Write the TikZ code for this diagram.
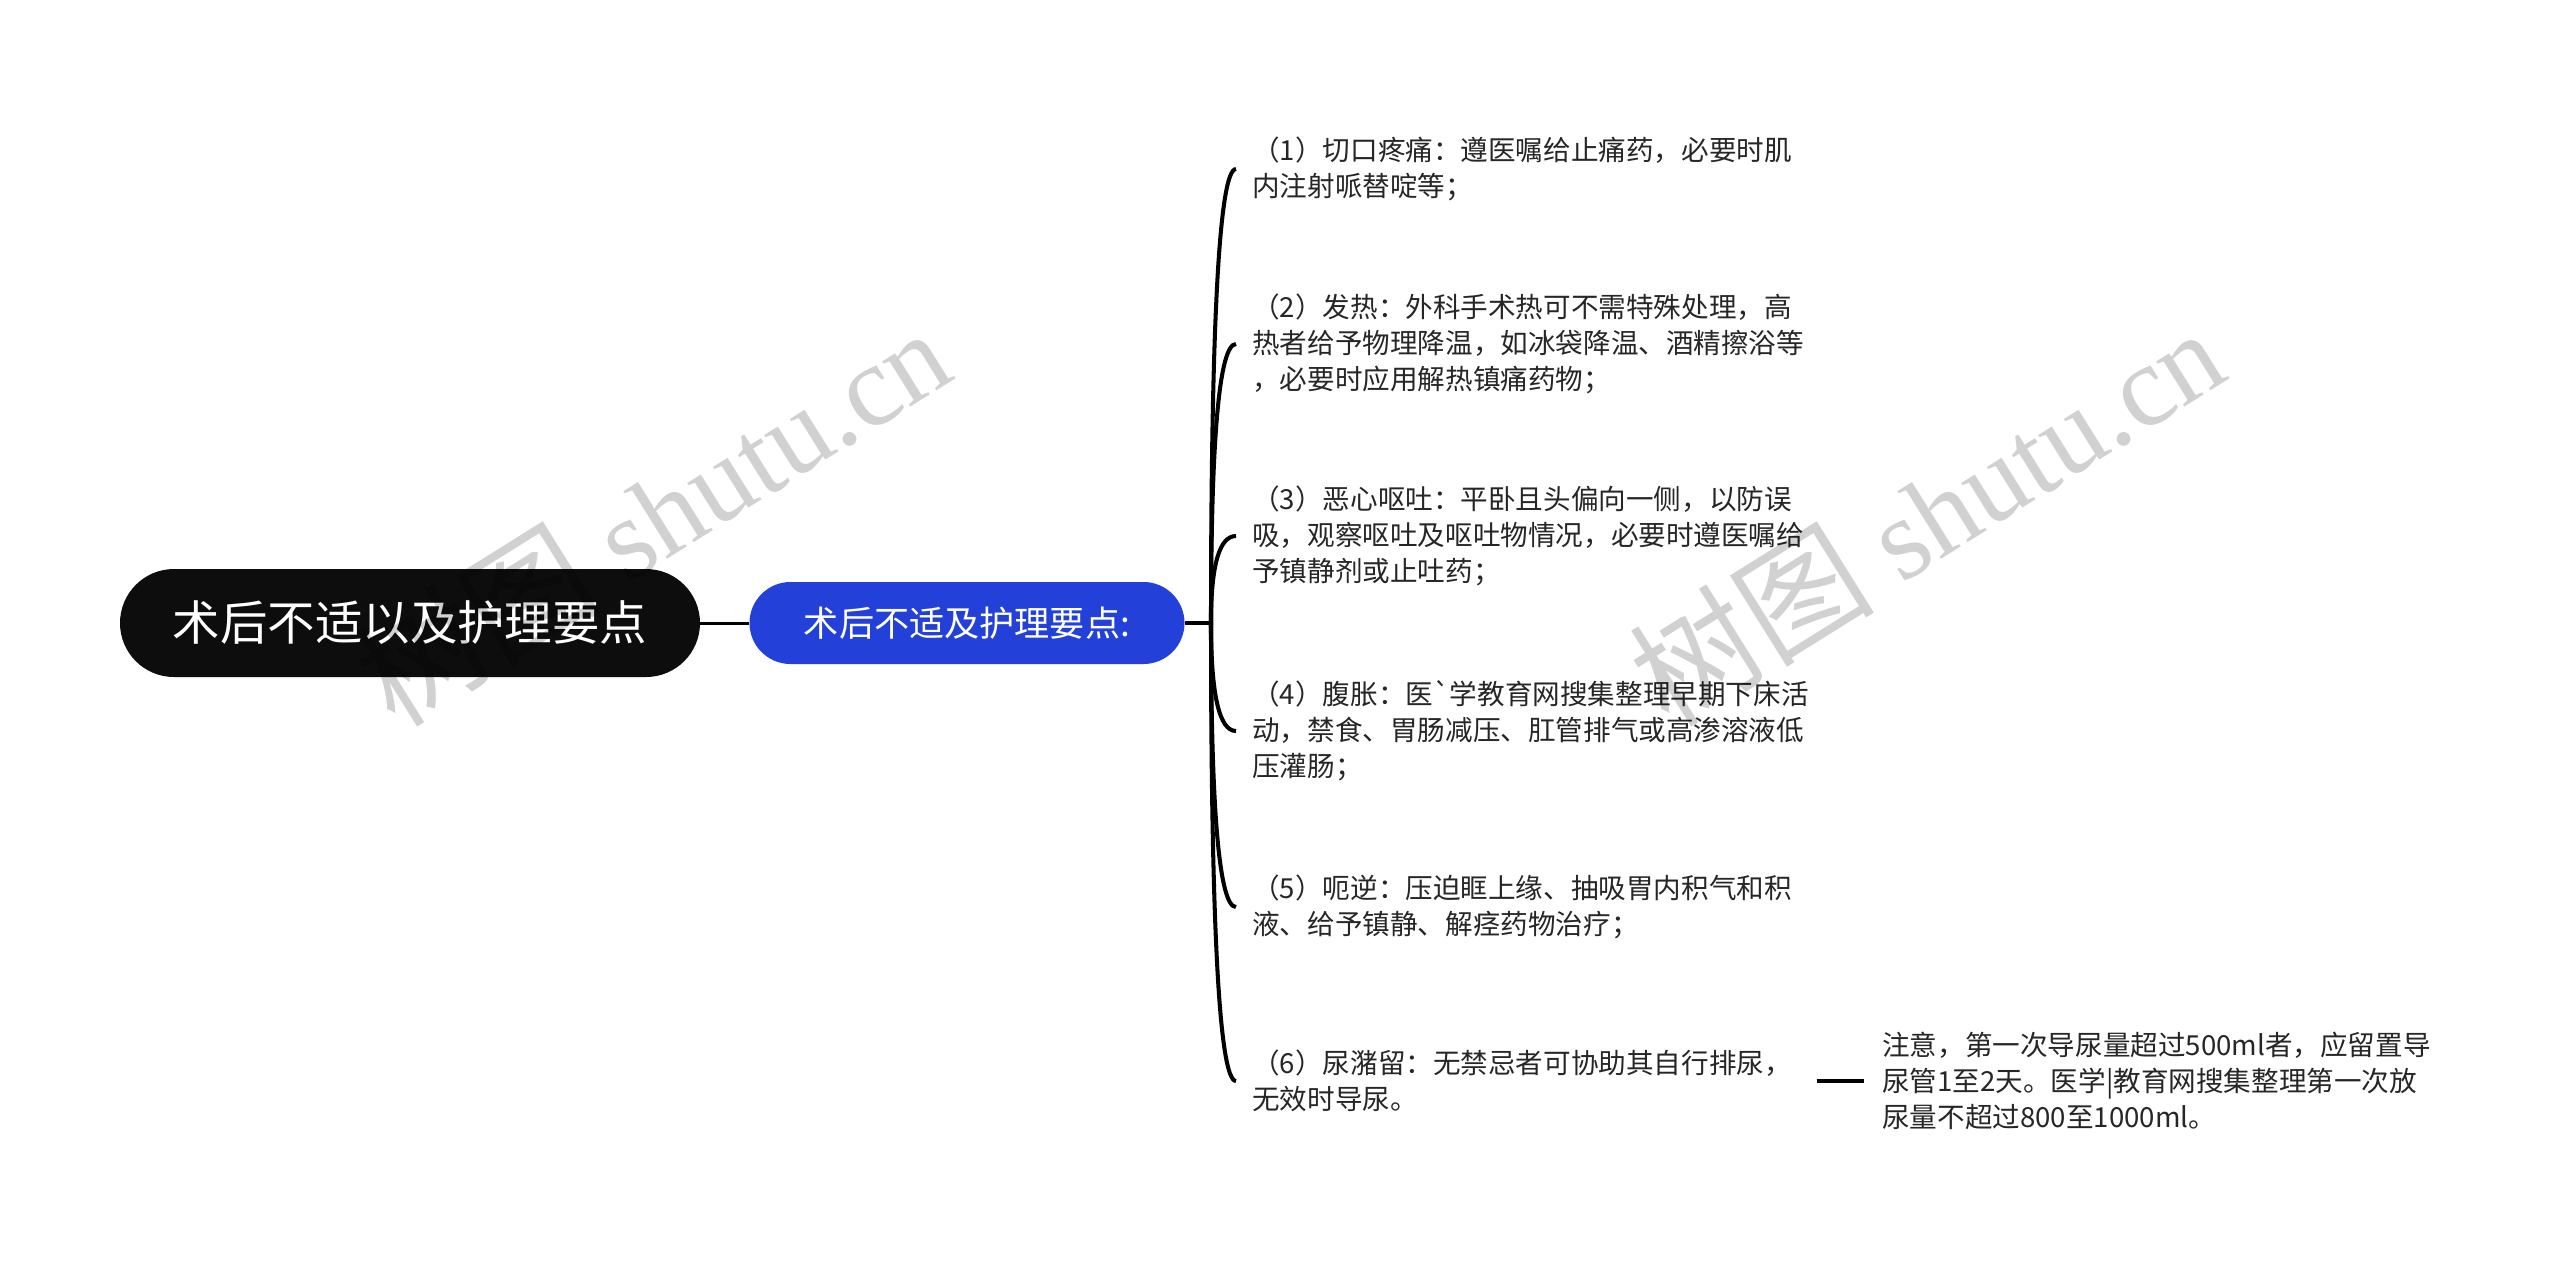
\documentclass[tikz,border=0pt]{standalone}
\usepackage{fontspec}
\setmainfont{Noto Sans CJK SC}
\newfontfamily\wmlatin{Liberation Serif}
\usetikzlibrary{shapes.misc,calc}
\definecolor{rootblack}{HTML}{0D0D0D}
\definecolor{topicblue}{HTML}{2340D8}

\begin{document}
\begin{tikzpicture}[x=0.2mm,y=-0.2mm,
    pill/.style={rounded rectangle, text=white, inner sep=0pt},
    kid/.style={anchor=west, align=left, text width=109.6mm, inner xsep=3.2mm, inner ysep=0pt,
      font=\fontsize{15.7pt}{20.5pt}\selectfont, text=black!85},
    link/.style={line width=2.3pt, black},
    mark text/.style={rotate=32, opacity=0.18, font=\fontsize{70pt}{70pt}\selectfont}]
  \useasboundingbox (0,0) rectangle (2560,1261);
  \fill[white] (0,0) rectangle (2560,1261);

  % Root (Black)
  \node[pill, fill=rootblack, minimum width=116mm, minimum height=21.6mm,
    font=\fontsize{27pt}{30pt}\selectfont] (root) at (410,623) {术后不适以及护理要点};

  % Topic (Blue)
  \node[pill, fill=topicblue, minimum width=87mm, minimum height=16.4mm,
    font=\fontsize{20pt}{24pt}\selectfont] (topic) at (967,623) {术后不适及护理要点:};
  \coordinate (hub) at (1211,623);

  % Items
  \node[kid] (k1) at (1236,169) {（1）切口疼痛：遵医嘱给止痛药，必要时肌\\内注射哌替啶等；};
  \node[kid] (k2) at (1236,344) {（2）发热：外科手术热可不需特殊处理，高\\热者给予物理降温，如冰袋降温、酒精擦浴等\\，必要时应用解热镇痛药物；};
  \node[kid] (k3) at (1236,536) {（3）恶心呕吐：平卧且头偏向一侧，以防误\\吸，观察呕吐及呕吐物情况，必要时遵医嘱给\\予镇静剂或止吐药；};
  \node[kid] (k4) at (1236,731) {（4）腹胀：医\textasciigrave 学教育网搜集整理早期下床活\\动，禁食、胃肠减压、肛管排气或高渗溶液低\\压灌肠；};
  \node[kid] (k5) at (1236,907) {（5）呃逆：压迫眶上缘、抽吸胃内积气和积\\液、给予镇静、解痉药物治疗；};
  \node[kid] (k6) at (1236,1081) {（6）尿潴留：无禁忌者可协助其自行排尿，\\无效时导尿。};

  % Note on item 6
  \node[kid, inner xsep=3.6mm, text width=112mm] (note) at (1864,1081) {注意，第一次导尿量超过500ml者，应留置导\\尿管1至2天。医学|教育网搜集整理第一次放\\尿量不超过800至1000ml。};

  % Connectors
  \draw[line width=1.7pt] (root.east) -- (topic.west);
  \draw[link] (topic.east) -- (hub);
  \foreach \k in {k1,k2,k3,k4,k5,k6}
    \draw[link] (hub) .. controls ($(hub)!2/3!(hub |- \k.west)$) and ($(\k.west)!2/3!(hub |- \k.west)$) .. (\k.west);
  \draw[link] (k6.east) -- (note.west);

  % Watermarks
  \node[mark text] (wmL) at (652,514) {树图 {\wmlatin\fontsize{66pt}{66pt}\selectfont shutu.cn}};
  \node[mark text] (wmR) at (1926,514) {树图 {\wmlatin\fontsize{66pt}{66pt}\selectfont shutu.cn}};
\end{tikzpicture}
\end{document}
